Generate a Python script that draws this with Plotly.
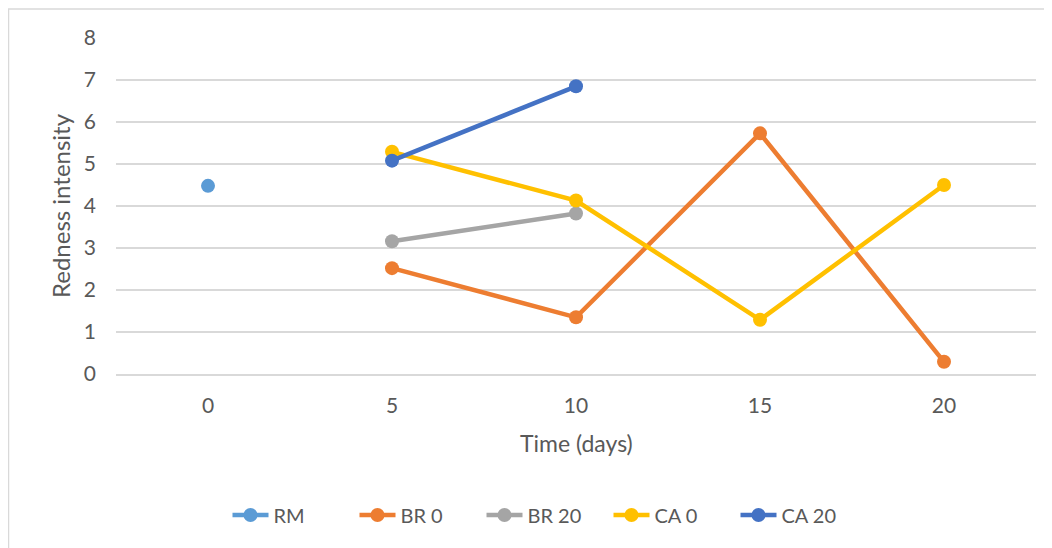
import plotly.graph_objects as go

categories = ["0", "5", "10", "15", "20"]

rm_x = ["0"]
rm_y = [4.48]

br0_x = ["5", "10", "15", "20"]
br0_y = [2.52, 1.35, 5.73, 0.29]

br20_x = ["5", "10"]
br20_y = [3.16, 3.82]

ca0_x = ["5", "10", "15", "20"]
ca0_y = [5.29, 4.13, 1.29, 4.50]

ca20_x = ["5", "10"]
ca20_y = [5.08, 6.85]

series = [
    ("RM", rm_x, rm_y, "#5B9BD5"),
    ("BR 0", br0_x, br0_y, "#ED7D31"),
    ("BR 20", br20_x, br20_y, "#A5A5A5"),
    ("CA 0", ca0_x, ca0_y, "#FFC000"),
    ("CA 20", ca20_x, ca20_y, "#4472C4"),
]

FONT = "Lato, 'Open Sans', sans-serif"
TXT = "#595959"
GRID = "#D9D9D9"

W, H = 1052, 548
L, R, T, B = 108, 24, 30, 182
PW, PH = W - L - R, H - T - B


def px_x(x):
    return (x - L) / PW


def px_y(y):
    return (H - B - y) / PH


fig = go.Figure()
for name, xs, ys, col in series:
    fig.add_trace(go.Scatter(
        x=xs, y=ys, name=name, mode="lines+markers",
        line=dict(color=col, width=4.5),
        marker=dict(color=col, size=14),
        cliponaxis=False,
    ))

fig.update_layout(
    width=W, height=H,
    margin=dict(l=L, r=R, t=T, b=B, autoexpand=False),
    paper_bgcolor="white", plot_bgcolor="white",
    font=dict(family=FONT, color=TXT, size=16),
    showlegend=True,
    legend=dict(orientation="h", x=px_x(537), xanchor="center", xref="paper",
                y=px_y(507), yanchor="middle",
                font=dict(size=20, color=TXT), itemwidth=36,
                entrywidth=76, entrywidthmode="pixels",
                traceorder="normal"),
    xaxis=dict(type="category", categoryorder="array", categoryarray=categories,
               range=[-0.5, 4.5], showgrid=False, showline=True,
               linecolor=GRID, linewidth=1.5, ticks="", tickfont=dict(size=21, color=TXT),
               ticklabelstandoff=12),
    yaxis=dict(range=[0, 8], dtick=1, showgrid=True, gridcolor=GRID, gridwidth=1.5,
               zeroline=True, zerolinecolor=GRID, zerolinewidth=1.5,
               showline=False, ticks="", tickfont=dict(size=21, color=TXT),
               ticklabelstandoff=19),
    annotations=[
        dict(text="Time (days)", xref="paper", yref="paper", x=0.5,
             y=px_y(435), xanchor="center", yanchor="middle",
             showarrow=False, font=dict(size=23, color=TXT)),
        dict(text="Redness intensity", xref="paper", yref="paper",
             x=px_x(52), y=0.5, xanchor="center", yanchor="middle",
             textangle=-90, showarrow=False, font=dict(size=24, color=TXT)),
    ],
    shapes=[
        dict(type="line", xref="paper", yref="paper",
             x0=px_x(0), x1=px_x(1060),
             y0=px_y(1), y1=px_y(1),
             line=dict(color=GRID, width=1.5)),
        dict(type="line", xref="paper", yref="paper",
             x0=px_x(0.5), x1=px_x(0.5),
             y0=px_y(1), y1=px_y(560),
             line=dict(color=GRID, width=1.5)),
    ],
)

fig.write_html("out.html")
